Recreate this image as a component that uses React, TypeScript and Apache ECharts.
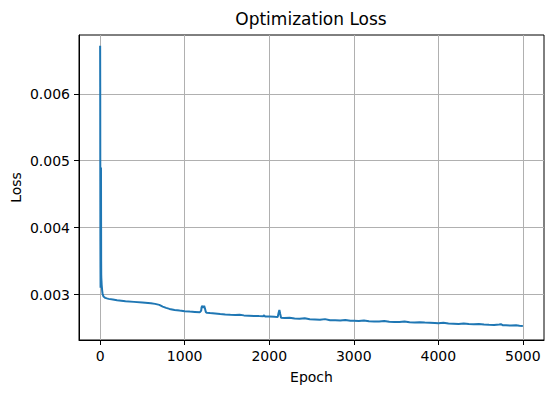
import React, { useEffect, useRef } from "react";
import * as echarts from "echarts";

const epochs = [
  0, 1, 2, 3, 4, 5, 6, 7, 8, 9, 10, 11, 12, 13, 14, 16, 18, 20, 24, 28, 34, 40, 50, 60, 80, 100,
  150, 200, 300, 400, 500, 600, 650, 700, 740, 780, 820, 880, 940, 1000, 1060, 1120, 1180,
  1195, 1200, 1210, 1220, 1230, 1240, 1250, 1260, 1300, 1360, 1420, 1480, 1540, 1600, 1650,
  1700, 1760, 1820, 1880, 1930, 1940, 1950, 2000, 2060, 2100, 2110, 2120, 2130, 2140, 2180,
  2240, 2300, 2360, 2420, 2480, 2540, 2600, 2660, 2720, 2780, 2840, 2900, 2960, 3000, 3060,
  3120, 3180, 3240, 3300, 3360, 3420, 3480, 3540, 3600, 3660, 3720, 3780, 3840, 3900, 3960,
  4000, 4060, 4120, 4180, 4240, 4300, 4360, 4420, 4480, 4540, 4600, 4660, 4720, 4740, 4760,
  4800, 4860, 4920, 4960, 5000,
];

const losses = [
  0.00672, 0.0061, 0.0047, 0.0038, 0.0034, 0.0031, 0.0035, 0.0039, 0.0033, 0.0036, 0.0049,
  0.0042, 0.0035, 0.0033, 0.00325, 0.0032, 0.00315, 0.00312, 0.00306, 0.00302, 0.00299,
  0.00297, 0.00296, 0.00295, 0.002942, 0.002935, 0.002925, 0.002915, 0.0029, 0.00289,
  0.00288, 0.00287, 0.00286, 0.002845, 0.00282, 0.0028, 0.002785, 0.00277, 0.00276, 0.002751,
  0.002745, 0.00274, 0.002735, 0.00276, 0.00281, 0.00283, 0.0028, 0.00283, 0.00279, 0.00274,
  0.002728, 0.002722, 0.002715, 0.002708, 0.002702, 0.002697, 0.002694, 0.002698, 0.002688,
  0.002684, 0.00268, 0.002677, 0.002676, 0.00269, 0.002672, 0.00267, 0.002666, 0.002662,
  0.00272, 0.00277, 0.00271, 0.002652, 0.002648, 0.002652, 0.00264, 0.002636, 0.002645,
  0.00263, 0.002626, 0.002622, 0.002632, 0.002616, 0.002614, 0.002611, 0.00262, 0.002608,
  0.002606, 0.002603, 0.002612, 0.0026, 0.002598, 0.002596, 0.002605, 0.002592, 0.00259,
  0.002588, 0.002596, 0.002584, 0.002582, 0.002586, 0.00258, 0.002577, 0.002574, 0.002571,
  0.002578, 0.002566, 0.002564, 0.002561, 0.002568, 0.002558, 0.002554, 0.00256, 0.002552,
  0.002548, 0.002546, 0.002552, 0.002556, 0.002542, 0.00254, 0.002536, 0.00254, 0.002533,
  0.002531,
];

const xTicks = [0, 1000, 2000, 3000, 4000, 5000];
const yTicks = [0.003, 0.004, 0.005, 0.006];

export default function App() {
  const ref = useRef<HTMLDivElement>(null);
  useEffect(() => {
    if (!ref.current) return;
    const chart = echarts.init(ref.current, null, { renderer: "svg" });
    const font = "DejaVu Sans";
    const data = epochs.map((e, i) => [e, losses[i]]);
    chart.setOption({
      animation: false,
      backgroundColor: "#ffffff",
      textStyle: { fontFamily: font },
      title: {
        text: "Optimization Loss",
        left: 311,
        textAlign: "center",
        top: 10,
        padding: 0,
        textStyle: { fontFamily: font, fontSize: 17, fontWeight: "normal", color: "#000" },
      },
      grid: {
        left: 79,
        right: 9,
        top: 35,
        bottom: 53,
        containLabel: false,
        outerBoundsMode: "none",
        show: true,
        borderColor: "#000",
        borderWidth: 1,
        backgroundColor: "transparent",
      },
      xAxis: {
        type: "value",
        min: -250,
        max: 5250,
        name: "Epoch",
        nameLocation: "middle",
        nameGap: 30,
        nameMoveOverlap: false,
        nameTextStyle: { fontFamily: font, fontSize: 14, color: "#000" },
        axisLine: { show: true, onZero: false, lineStyle: { color: "#000", width: 1 } },
        axisTick: {
          show: true,
          length: 5,
          customValues: xTicks,
          lineStyle: { color: "#000" },
        },
        axisLabel: {
          customValues: xTicks,
          margin: 9,
          fontFamily: font,
          fontSize: 14,
          color: "#000",
          formatter: (v: number) => String(v),
        },
        splitLine: { show: true, lineStyle: { color: "#b0b0b0", width: 1 } },
      },
      yAxis: {
        type: "value",
        min: 0.00232,
        max: 0.00688,
        name: "Loss",
        nameLocation: "middle",
        nameGap: 56,
        nameMoveOverlap: false,
        nameTextStyle: { fontFamily: font, fontSize: 14, color: "#000" },
        axisLine: { show: true, onZero: false, lineStyle: { color: "#000", width: 1 } },
        axisTick: {
          show: true,
          length: 5,
          customValues: yTicks,
          lineStyle: { color: "#000" },
        },
        axisLabel: {
          customValues: yTicks,
          margin: 9,
          fontFamily: font,
          fontSize: 14,
          color: "#000",
          formatter: (v: number) => v.toFixed(3),
        },
        splitLine: { show: true, lineStyle: { color: "#b0b0b0", width: 1 } },
      },
      series: [
        {
          type: "line",
          data,
          showSymbol: false,
          symbol: "none",
          lineStyle: { color: "#1f77b4", width: 2 },
          z: 3,
        },
      ],
    });
    return () => chart.dispose();
  }, []);
  return (
    <div
      ref={ref}
      style={{ position: "fixed", left: 0, top: 0, width: 553, height: 393 }}
    />
  );
}
